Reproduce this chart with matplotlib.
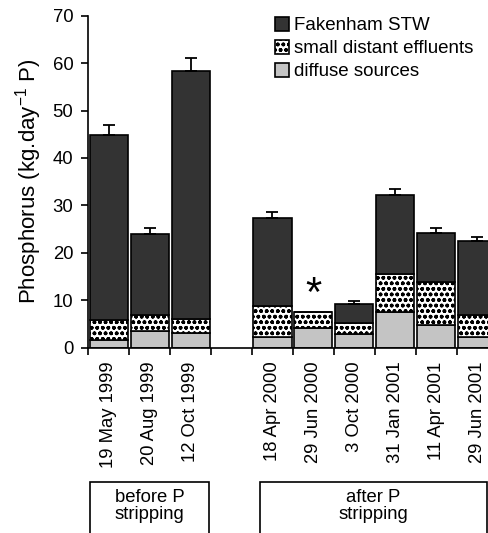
import numpy as np
import matplotlib
matplotlib.use("Agg")
import matplotlib.pyplot as plt
from matplotlib.patches import Rectangle

plt.rcParams['font.family'] = ['Liberation Sans', 'DejaVu Sans']
plt.rcParams['mathtext.fontset'] = 'custom'
plt.rcParams['mathtext.rm'] = 'Liberation Sans'
plt.rcParams['mathtext.it'] = 'Liberation Sans'
plt.rcParams['hatch.linewidth'] = 1.1

# Sampling dates (gap slot between before/after stripping)
dates = ["19 May 1999", "20 Aug 1999", "12 Oct 1999",
         "18 Apr 2000", "29 Jun 2000", "3 Oct 2000",
         "31 Jan 2001", "11 Apr 2001", "29 Jun 2001"]
slots = [0, 1, 2, 4, 5, 6, 7, 8, 9]

# cumulative tops
diffuse = [1.6, 3.5, 3.0, 2.3, 4.1, 2.8, 7.5, 4.8, 2.2]
small_top = [5.8, 6.9, 6.0, 8.7, 7.5, 5.2, 15.5, 13.8, 6.8]
total = [44.8, 24.0, 58.3, 27.4, 7.5, 9.3, 32.1, 24.2, 22.4]
err_top = [46.9, 25.2, 61.0, 28.7, np.nan, 9.8, 33.5, 25.3, 23.4]

diffuse = np.array(diffuse)
small = np.array(small_top) - diffuse
stw = np.array(total) - np.array(small_top)
err = np.array(err_top) - np.array(total)

fig = plt.figure(figsize=(4.89, 5.33), dpi=100)
ax = fig.add_axes([88.3 / 489, 185.3 / 533, 409.3 / 489, 332 / 533])

w = 0.93
ax.bar(slots, diffuse, w, color="#c4c4c4", edgecolor="black", linewidth=1.2,
       label="diffuse sources")
ax.bar(slots, small, w, bottom=diffuse, color="white", edgecolor="black",
       hatch="ooo", linewidth=1.2, label="small distant effluents")
ax.bar(slots, stw, w, bottom=diffuse + small, color="#333333", edgecolor="black",
       linewidth=1.2, label="Fakenham STW")
ok = ~np.isnan(err)
ax.errorbar(np.array(slots)[ok], np.array(total)[ok],
            yerr=[np.zeros(ok.sum()), err[ok]], fmt="none", ecolor="black",
            elinewidth=1.3, capsize=4.5, capthick=1.3)

# asterisk above 29 Jun 2000
ax.text(5, 11.2, "*", ha="center", va="center", fontsize=30)

ax.set_xlim(-0.5, 9.5)
ax.set_ylim(0, 70)
ax.set_yticks(np.arange(0, 71, 10))
ax.tick_params(axis="y", direction="out", length=4.8, width=1.2, labelsize=13.3, pad=6)
ax.set_xticks(np.arange(-0.5, 10, 1))
ax.set_xticklabels([])
ax.tick_params(axis="x", which="major", direction="out", length=4.8, width=1.2)
ax.set_xticks(slots, minor=True)
ax.set_xticklabels(dates, minor=True, rotation=90, fontsize=13.3, va="top")
ax.tick_params(axis="x", which="minor", length=0, pad=10)

for s in ["top", "right"]:
    ax.spines[s].set_visible(False)
for s in ["left", "bottom"]:
    ax.spines[s].set_linewidth(1.2)

ax.set_ylabel("Phosphorus (kg.day$^{-1}$ P)", fontsize=16)
ax.yaxis.set_label_coords(-0.108, 0.5)

h, l = ax.get_legend_handles_labels()
ax.legend(h[::-1], l[::-1], loc="upper left", bbox_to_anchor=(275 / 489, 1 - 17 / 533),
          bbox_transform=fig.transFigure, frameon=False, fontsize=13.5,
          handlelength=0.75, handleheight=0.75, handletextpad=0.25,
          labelspacing=0.3, borderpad=0, borderaxespad=0)

# period boxes below the date labels
for x0, x1, txt in [(90, 209.3, "before P\nstripping"), (260, 487, "after P\nstripping")]:
    fig.patches.append(Rectangle((x0 / 489, -0.05), (x1 - x0) / 489, 0.05 + (533 - 481.7) / 533,
                                 transform=fig.transFigure, fill=False,
                                 edgecolor="black", linewidth=1.2, clip_on=False))
    fig.text((x0 + x1) / 2 / 489, 1 - 506 / 533, txt, ha="center", va="center",
             fontsize=13.3, linespacing=1.05)

fig.savefig("out.png", dpi=100)
